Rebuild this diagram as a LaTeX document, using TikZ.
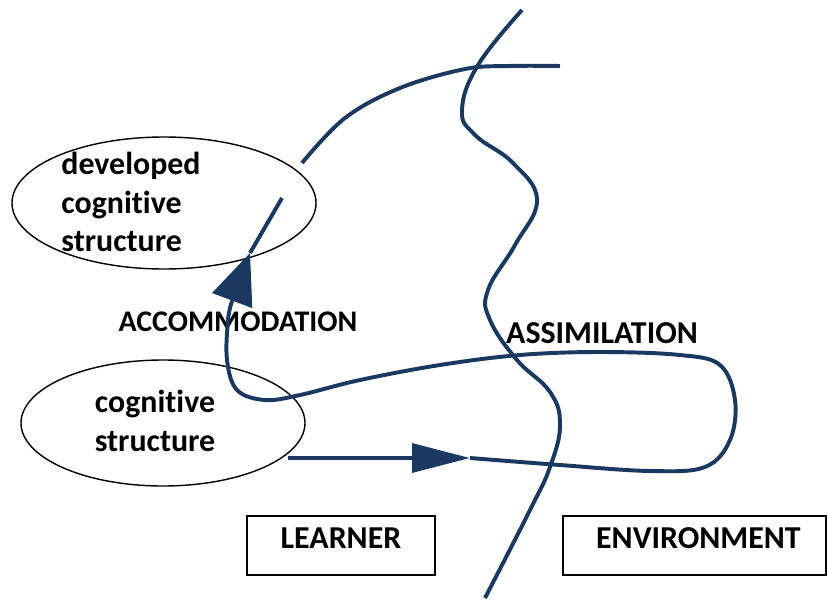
\documentclass[tikz,border=0pt]{standalone}
\usepackage{fontspec}
\setmainfont{Carlito}[Ligatures=NoCommon]
\usetikzlibrary{shapes.geometric,arrows.meta}
\definecolor{loopblue}{RGB}{26,56,96}
\tikzset{
	blob/.style={draw, ellipse, line width=1pt, inner sep=0pt},
	lbl/.style={font=\bfseries\fontsize{22.7}{27.5}\selectfont},
	tag/.style={draw, rectangle, line width=1pt, minimum height=1.475cm, inner ysep=0pt, text height=0.5cm, text depth=0.34cm, lbl},
	bluepath/.style={draw=loopblue, line width=2.8pt},
}
\begin{document}
\begin{tikzpicture}
		\useasboundingbox (0,0) rectangle (20.675,15.025);
		% the two structures
		\node[blob, minimum width=7.6cm, minimum height=3.3cm] (devel) at (4.1,9.95) {};
		\node[lbl, align=left] (develtext) at (3.275,9.975) {developed\\cognitive\\structure};
		\node[blob, minimum width=7.1cm, minimum height=3.15cm] (cogn) at (4.075,4.45) {};
		\node[lbl, align=center] (cogntext) at (3.875,4.5) {cognitive\\structure};
		
		\node[lbl, font=\bfseries\fontsize{21.3}{26}\selectfont] (accom) at (5.95,6.975) {ACCOMMODATION};
		\node[lbl] (assim) at (15.05,6.7) {ASSIMILATION};
		
		\node[tag, minimum width=4.7cm] (learner) at (8.525,1.39) {LEARNER};
		\node[tag, minimum width=6.575cm] (environ) at (17.36,1.39) {\hspace{0.2cm}ENVIRONMENT};
		
		% border between learner and environment
		\draw[bluepath] plot[smooth, tension=.7] coordinates {(13.05,14.775) (11.95,13.4) (11.55,12.275) (11.875,11.65) (12.825,10.95) (13.425,10.025) (12.875,8.9) (12.2,7.775) (12.25,7.025) (12.925,6.025) (13.75,5.225) (14.0,4.4) (13.75,3.35) (13.25,2.275) (12.125,0.075)};
		
		% the loop
		\coordinate (start) at (7.2,3.575);
		\coordinate (tipA) at (11.75,3.575);
		\coordinate (baseB) at (5.8,7.5);
		\coordinate (tipB) at (6.25,8.7);
		\coordinate (stop) at (7.05,10.075);
		\draw[bluepath, -{Triangle[length=1.45cm, width=0.72cm]}] (start) -- (tipA);
		\draw[bluepath] plot[smooth, tension=.6] coordinates {(tipA) (14.0,3.4) (16.25,3.25) (17.625,3.35) (18.25,4.025) (18.375,5.025) (18.0,5.9) (17.0,6.15) (15.0,6.225) (13.0,6.15) (11.0,5.9) (9.0,5.525) (7.5,5.15) (6.625,5.025) (5.925,5.275) (5.675,6.025) (5.7,7.025) (baseB)};
		\draw[bluepath, -{Triangle[length=1.27cm, width=1.05cm]}] (baseB) -- (tipB);
		\draw[bluepath] (tipB) -- (stop);
		
		% the new piece
		\draw[bluepath] plot[smooth, tension=.6] coordinates {(7.55,10.95) (8.625,12.075) (10.0,12.825) (11.625,13.3) (12.75,13.375) (14.0,13.375)};
\end{tikzpicture}
\end{document}
